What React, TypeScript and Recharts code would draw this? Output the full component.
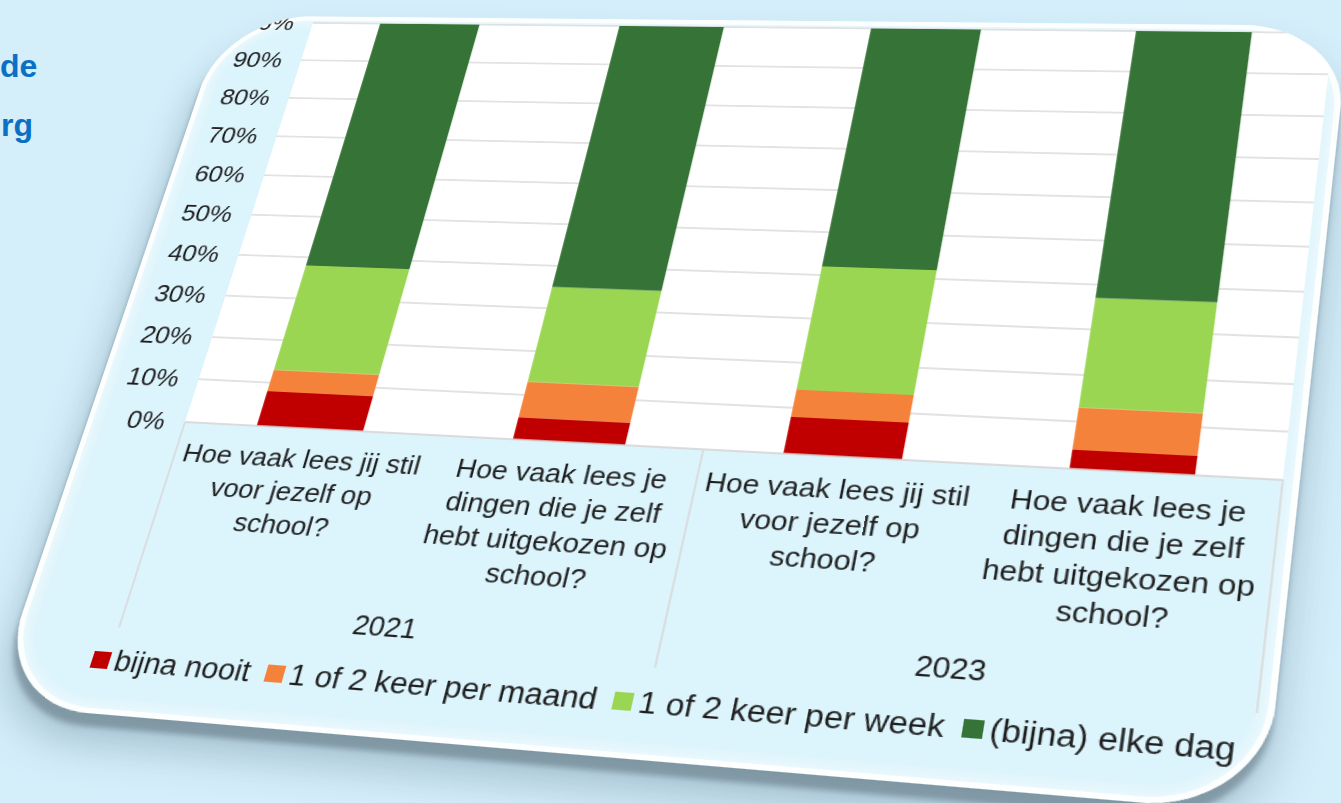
import React from "react";
import { BarChart, Bar, XAxis, YAxis, CartesianGrid } from "recharts";

// categories (vraag) en jaren
const categories = [
  "Hoe vaak lees jij stil\nvoor jezelf op\nschool?",
  "Hoe vaak lees je\ndingen die je zelf\nhebt uitgekozen op\nschool?",
  "Hoe vaak lees jij stil\nvoor jezelf op\nschool?",
  "Hoe vaak lees je\ndingen die je zelf\nhebt uitgekozen op\nschool?",
];
const years = ["2021", "2023"];

// percentages per antwoordcategorie
const seriesNames = ["bijna nooit", "1 of 2 keer per maand", "1 of 2 keer per week", "(bijna) elke dag"];
const bijnaNooit = [8, 5, 8, 4];
const keerPerMaand = [5, 8, 6, 9];
const keerPerWeek = [25, 22, 28, 24];
const elkeDag = [62, 65, 58, 63];
const yTicks = [0, 10, 20, 30, 40, 50, 60, 70, 80, 90, 100];

const colors = ["#c00000", "#f5823a", "#9bd653", "#367336"];

// flat layout of the card
const CARD_X = 12; // card starts a little right of the flat origin
const CW = 1058;
const CH = 746;
const PL = 105;
const PR = 1045;
const PT = 8;
const PB = 458;
const LEGEND_H = 80;
const XAXIS_H = CH - PB - LEGEND_H;
const BAND = (PR - PL) / categories.length;
const FONT = "'Liberation Sans', Arial, sans-serif";
const TEXT = "#1f1f1f";

// screen position of the plot corners (the card is photographed in perspective)
const plotCornersFlat = [[PL, PT], [PR, PT], [PR, PB], [PL, PB]];
const plotCornersScreen = [[313, 23], [1333, 33], [1283, 480], [185, 422]];

function solve(A: number[][], b: number[]): number[] {
  const n = b.length;
  const M = A.map((row, i) => [...row, b[i]]);
  for (let c = 0; c < n; c++) {
    let p = c;
    for (let r = c + 1; r < n; r++) if (Math.abs(M[r][c]) > Math.abs(M[p][c])) p = r;
    [M[c], M[p]] = [M[p], M[c]];
    for (let r = 0; r < n; r++) {
      if (r === c) continue;
      const f = M[r][c] / M[c][c];
      for (let k = c; k <= n; k++) M[r][k] -= f * M[c][k];
    }
  }
  return M.map((row, i) => row[n] / row[i]);
}

function perspective(src: number[][], dst: number[][]) {
  const A: number[][] = [];
  const b: number[] = [];
  src.forEach(([x, y], i) => {
    const [X, Y] = dst[i];
    A.push([x, y, 1, 0, 0, 0, -x * X, -y * X]);
    b.push(X);
    A.push([0, 0, 0, x, y, 1, -x * Y, -y * Y]);
    b.push(Y);
  });
  const h = solve(A, b);
  return `matrix3d(${[h[0], h[3], 0, h[6], h[1], h[4], 0, h[7], 0, 0, 1, 0, h[2], h[5], 0, 1].join(",")})`;
}

const data = categories.map((cat, i) => ({
  cat,
  year: years[Math.floor(i / 2)],
  s0: bijnaNooit[i],
  s1: keerPerMaand[i],
  s2: keerPerWeek[i],
  s3: elkeDag[i],
}));

function CategoryTick(props: any) {
  const { x, payload, index } = props;
  const lines = String(payload.value).split("\n");
  const sepBottom = PB + 206;
  return (
    <g>
      <text x={x} y={PB + 40} textAnchor="middle" fontSize={25} fill={TEXT} fontFamily={FONT}>
        {lines.map((l, k) => (
          <tspan key={k} x={x} dy={k === 0 ? 0 : 33}>{l}</tspan>
        ))}
      </text>
      {index % 2 === 0 && (
        <>
          <line x1={x - BAND / 2} x2={x - BAND / 2} y1={PB} y2={sepBottom} stroke="#d9d9d9" strokeWidth={1.5} />
          <text x={x + BAND / 2} y={PB + 196} textAnchor="middle" fontSize={25} fill={TEXT} fontFamily={FONT}>
            {data[index].year}
          </text>
        </>
      )}
      {index === categories.length - 1 && (
        <line x1={x + BAND / 2} x2={x + BAND / 2} y1={PB} y2={sepBottom} stroke="#d9d9d9" strokeWidth={1.5} />
      )}
    </g>
  );
}

// legend drawn in html: a Recharts Legend would be measured through the perspective transform
function LegendRow() {
  return (
    <div
      style={{
        position: "absolute",
        left: 0,
        top: CH - LEGEND_H - 10,
        height: LEGEND_H,
        display: "flex",
        alignItems: "center",
        paddingLeft: 90,
        whiteSpace: "nowrap",
        fontFamily: FONT,
      }}
    >
      {seriesNames.map((name, i) => (
        <span key={name} style={{ display: "inline-flex", alignItems: "center", marginRight: 14 }}>
          <span style={{ width: 16, height: 16, background: colors[i], display: "inline-block", marginRight: 5 }} />
          <span style={{ fontSize: 27, color: TEXT }}>{name}</span>
        </span>
      ))}
    </div>
  );
}

export default function App() {
  const transform = perspective(plotCornersFlat, plotCornersScreen);
  return (
    <div style={{ position: "fixed", left: 0, top: 0, width: 1341, height: 803, overflow: "hidden", background: "#d4eefa" }}>
      <div style={{ position: "absolute", left: 0, top: 37, width: 33, textAlign: "right", color: "#0b6fc4", fontWeight: 700, fontSize: 32, fontFamily: FONT, lineHeight: "59px" }}>
        <div>de</div>
        <div>rg</div>
      </div>
      <div style={{ position: "absolute", left: 0, top: 0, width: CW, height: CH, transformOrigin: "0 0", transform }}>
        <div
          style={{
            position: "absolute",
            left: CARD_X,
            top: 0,
            width: CW - CARD_X,
            height: CH,
            borderRadius: 90,
            background: "#dcf4fc",
            boxShadow:
              "inset 0 0 0 5px rgba(255,255,255,0.9), inset 0 0 14px 8px rgba(255,255,255,0.55), 0 12px 5px rgba(95,115,125,0.55), 0 26px 36px rgba(90,120,140,0.4)",
          }}
        />
        <div
          style={{
            position: "absolute",
            left: CARD_X,
            top: 0,
            width: CW - CARD_X,
            height: CH,
            borderRadius: 90,
            overflow: "hidden",
          }}
        >
          <div style={{ position: "absolute", left: -CARD_X, top: 0, width: CW, height: CH }}>
            <BarChart
              width={CW}
              height={CH}
              data={data}
              margin={{ top: PT, right: CW - PR, left: 0, bottom: LEGEND_H }}
              barCategoryGap="29%"
            >
              <CartesianGrid vertical={false} stroke="#d9d9d9" strokeWidth={1.5} fill="#ffffff" />
              <XAxis
                dataKey="cat"
                height={XAXIS_H}
                interval={0}
                tickLine={false}
                axisLine={{ stroke: "#d9d9d9", strokeWidth: 1.5 }}
                tick={<CategoryTick />}
              />
              <YAxis
                width={PL}
                domain={[0, 100]}
                ticks={yTicks}
                interval={0}
                tickFormatter={(v) => `${v}%`}
                axisLine={false}
                tickLine={false}
                tickMargin={13}
                tick={{ fontSize: 25, fill: TEXT, fontFamily: FONT }}
              />
              {seriesNames.map((name, i) => (
                <Bar key={name} dataKey={`s${i}`} name={name} stackId="a" fill={colors[i]} isAnimationActive={false} />
              ))}
            </BarChart>
            <LegendRow />
          </div>
        </div>
      </div>
    </div>
  );
}
